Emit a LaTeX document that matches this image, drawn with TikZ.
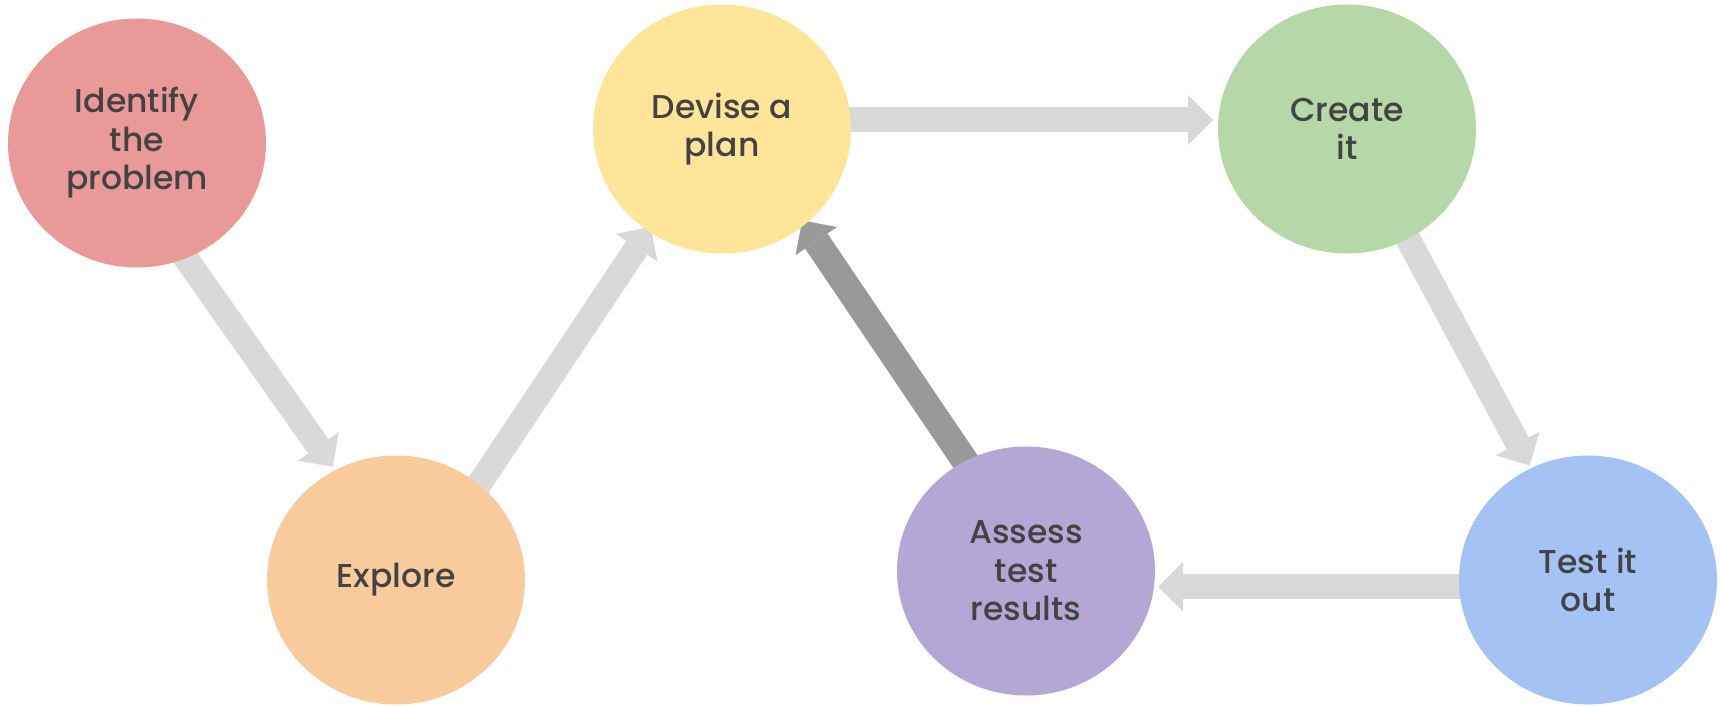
\documentclass[tikz,border=0pt]{standalone}
\usepackage{fontspec}
\setmainfont{Poppins Medium}
\usetikzlibrary{arrows.meta,backgrounds,shapes.geometric}

\definecolor{identcol}{HTML}{EA9999}
\definecolor{explorecol}{HTML}{F9CB9C}
\definecolor{devisecol}{HTML}{FFE599}
\definecolor{createcol}{HTML}{B6D7A8}
\definecolor{testcol}{HTML}{A4C2F4}
\definecolor{assesscol}{HTML}{B4A7D6}
\definecolor{inkgray}{HTML}{434343}
\definecolor{flowlight}{HTML}{D9D9D9}
\definecolor{flowdark}{HTML}{999999}

\begin{document}
\begin{tikzpicture}[
		x=1pt, y=-1pt,
		stage/.style={
			ellipse, draw=none, inner sep=0pt, minimum width=258pt, minimum height=249pt,
			align=center, text=inkgray, font=\fontsize{33}{38.5}\selectfont
		},
		flow/.style={
			draw=flowlight, line width=25pt, shorten <=-22pt, shorten >=4pt,
			-{Triangle[width=50pt, length=25pt, line width=0pt]}
		},
		backflow/.style={
			flow, draw=flowdark, line width=27pt
		}
		]
		
		\useasboundingbox (0,0) rectangle (1720,706);
		
		\node[stage, fill=identcol]   (ident)   at (137,143)  {Identify\\the\\problem};
		\node[stage, fill=explorecol] (explore) at (396,580)  {Explore};
		\node[stage, fill=devisecol]  (devise)  at (722,129)  {Devise a\\plan};
		\node[stage, fill=createcol]  (create)  at (1347,129) {Create\\it};
		\node[stage, fill=testcol]    (test)    at (1588,580) {Test it\\out};
		\node[stage, fill=assesscol]  (assess)  at (1026,571) {Assess\\test\\results};
		
		\begin{scope}[on background layer]
			\draw[flow] (ident.-67) -- (explore.119);
			\draw[flow, shorten >=-5pt] (explore.49) -- (devise.-126);
			\draw[flow, shorten >=5pt] (devise.4) -- (create.176);
			\draw[flow, shorten >=3pt] (create.-61) -- (test.117);
			\draw[flow] (test.-177) -- (assess.-7 |- test.-177);
			\draw[backflow, shorten >=-5pt] (assess.119) -- (devise.-49); % vuelta al plan
		\end{scope}
	\end{tikzpicture}
\end{document}
